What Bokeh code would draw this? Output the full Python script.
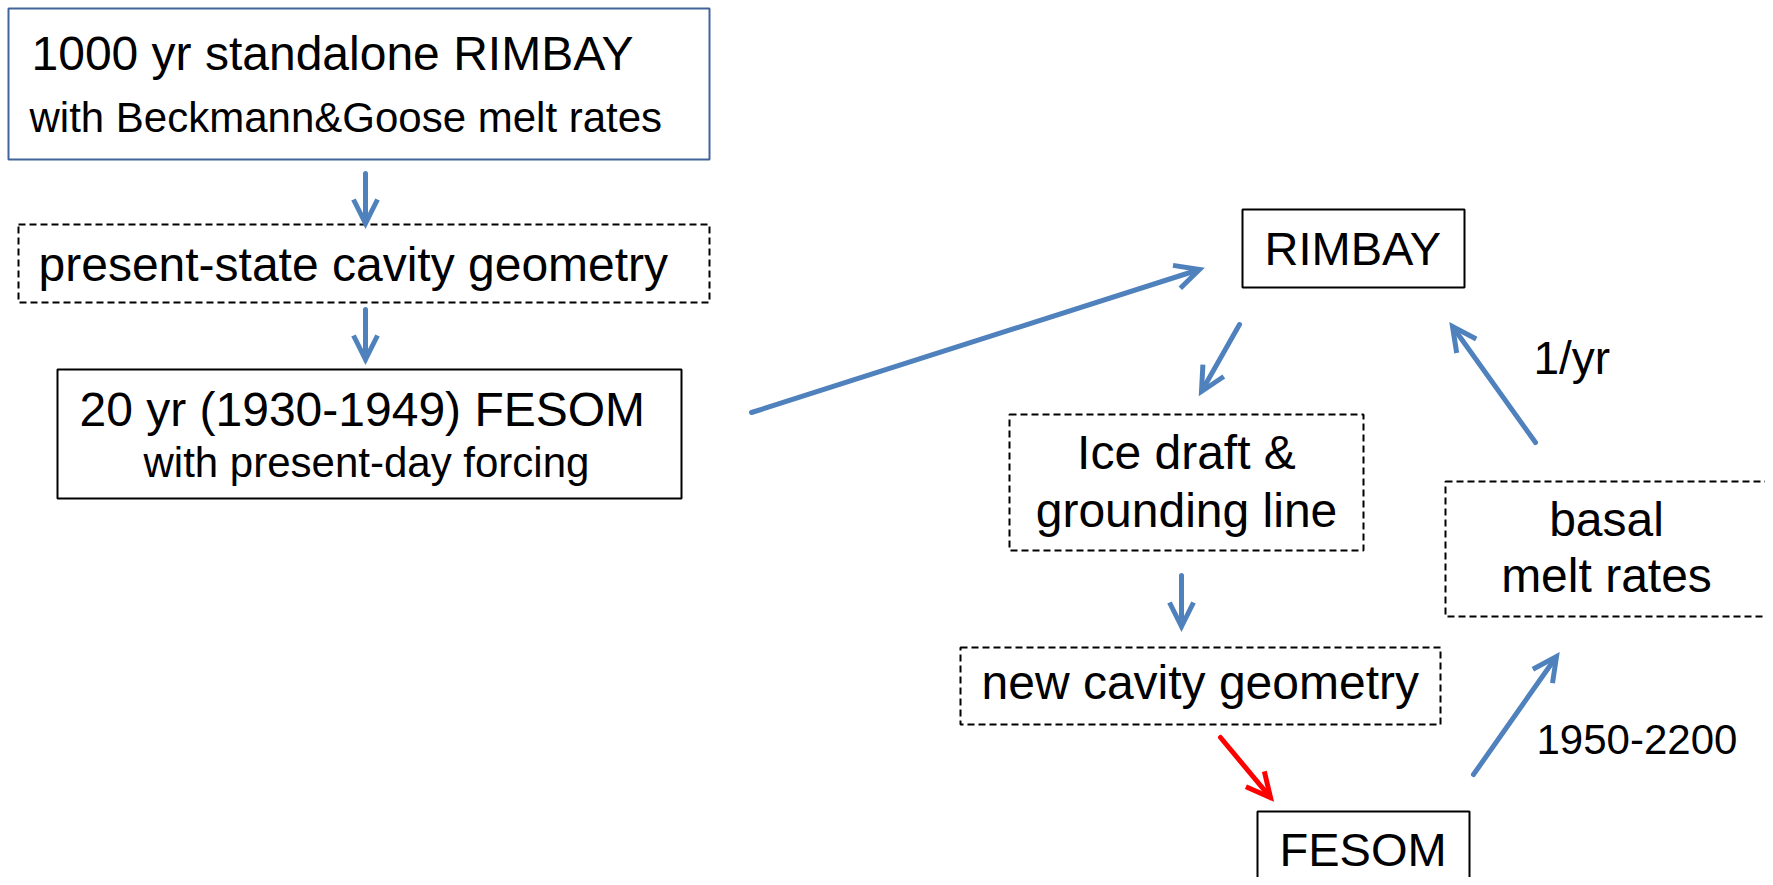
from bokeh.plotting import figure
from bokeh.models import Range1d, Arrow, OpenHead
from bokeh.core.properties import value
from bokeh.embed import file_html
from bokeh.resources import INLINE

# ---- diagram data (reference pixel space) ----
box_names  = ["spinup", "present_cavity", "fesom20", "rimbay", "icedraft", "newcavity", "basal", "fesom"]
box_left   = [8,   18,  57,  1242, 1009, 960,  1445, 1257]
box_right  = [709, 709, 681, 1464, 1363, 1440, 1767, 1469]
box_top    = [8,   224, 369, 209,  414,  647,  481,  811]
box_bottom = [159, 302, 498, 287,  550,  724,  616,  900]
box_dashed = [False, True, False, False, True, True, True, False]
box_color  = ["#41649a", "black", "black", "black", "black", "black", "black", "black"]

lab_text  = ["1000 yr standalone RIMBAY", "with Beckmann&Goose melt rates",
             "present-state cavity geometry",
             "20 yr (1930-1949) FESOM", "with present-day forcing",
             "RIMBAY", "Ice draft &", "grounding line",
             "new cavity geometry", "basal", "melt rates", "FESOM",
             "1/yr", "1950-2200"]
lab_x     = [31, 29, 38, 79, 143, 1264, 1186, 1186, 981, 1606, 1606, 1279, 1533, 1536]
lab_y     = [71, 133, 282, 427, 478, 266, 470, 528, 700, 537, 593, 867, 375, 755]
lab_size  = [48, 42, 48, 48, 42, 47, 48, 48, 48, 48, 48, 47, 46, 42]
lab_align = ["left", "left", "left", "left", "left", "left", "center", "center",
             "left", "center", "center", "left", "left", "left"]

arr_x0 = [365, 365, 751,  1239, 1181, 1220, 1473, 1535]
arr_y0 = [173, 309, 412,  324,  575,  737,  774,  442]
arr_x1 = [365, 365, 1199, 1201, 1181, 1270, 1556, 1452]
arr_y1 = [223, 359, 269,  391,  626,  797,  656,  326]
arr_col = ["#4f81bd", "#4f81bd", "#4f81bd", "#4f81bd", "#4f81bd", "#ff0000", "#4f81bd", "#4f81bd"]

W, H = 1765, 877
p = figure(width=W, height=H, output_backend="svg", toolbar_location=None,
           x_range=Range1d(0, W), y_range=Range1d(H, 0),
           min_border=0)
p.axis.visible = False
p.grid.visible = False
p.outline_line_color = None
p.background_fill_color = "white"
p.border_fill_color = "white"

for i in range(len(box_names)):
    p.quad(left=[box_left[i]], right=[box_right[i]], top=[box_top[i]], bottom=[box_bottom[i]],
           fill_color=None, line_color=box_color[i],
           line_width=2,
           line_dash="7 4" if box_dashed[i] else "solid")

BASELINE_SHIFT = 0.375  # em correction: renderer places alphabetic baseline lower
for i in range(len(lab_text)):
    p.text(x=[lab_x[i]], y=[lab_y[i] - BASELINE_SHIFT * lab_size[i]], text=[lab_text[i]],
           text_font=value("Liberation Sans"), text_font_size=f"{lab_size[i]}px",
           text_align=lab_align[i], text_baseline="alphabetic", text_color="black")

for i in range(len(arr_x0)):
    p.add_layout(Arrow(x_start=arr_x0[i], y_start=arr_y0[i], x_end=arr_x1[i], y_end=arr_y1[i],
                       line_color=arr_col[i], line_width=5, line_cap="round",
                       end=OpenHead(size=24, line_color=arr_col[i], line_width=5, line_join="miter")))

open("out.html", "w").write(file_html(p, INLINE))
